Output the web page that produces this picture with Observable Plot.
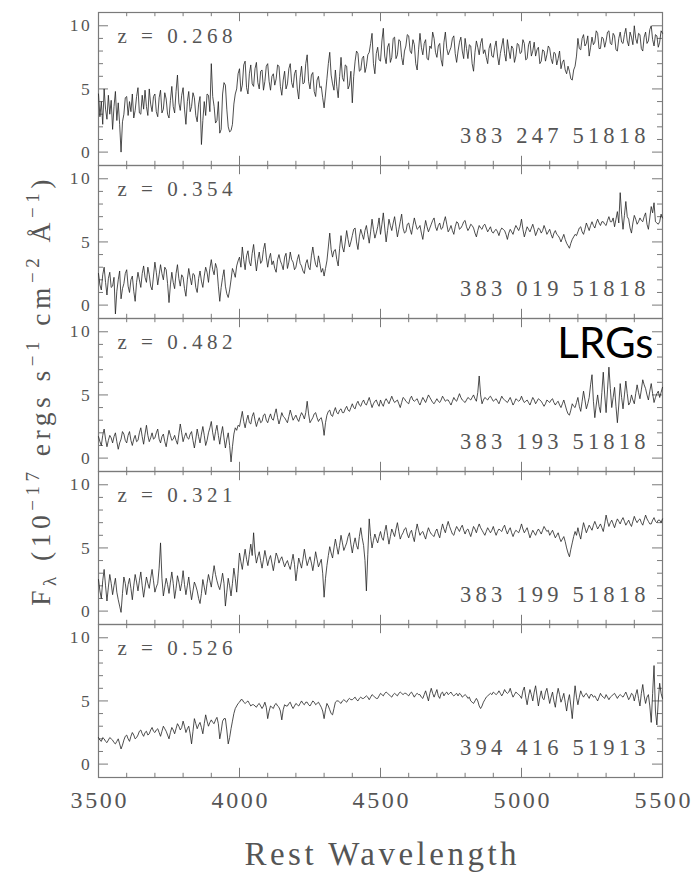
<!DOCTYPE html>
<html>
<head>
<meta charset="utf-8">
<script src="https://cdn.jsdelivr.net/npm/d3@7"></script>
<script src="https://cdn.jsdelivr.net/npm/@observablehq/plot@0.6"></script>
<style>
  html, body { margin: 0; padding: 0; background: #ffffff; }
  #chart { width: 692px; height: 873px; }
</style>
</head>
<body>
<div id="chart"></div>
<script>
// ---------- data (5 Å sampling, 3500–5500 Å) ----------
const wavelength = d3.range(3500, 5501, 5);
const panels = ["p1", "p2", "p3", "p4", "p5"];
const redshifts = ["0.268", "0.354", "0.482", "0.321", "0.526"];
const spectrumIds = ["383 247 51818", "383 019 51818", "383 193 51818", "383 199 51818", "394 416 51913"];

const flux268 = [
  4.6, 2.8, 4.0, 2.2, 5.0, 3.4, 2.6, 4.5, 3.0, 4.1,
  1.8, 3.6, 4.8, 2.5, 3.9, 2.2, 0.0, 2.4, 3.0, 4.3,
  4.4, 2.9, 4.0, 3.2, 4.6, 2.7, 3.3, 4.4, 5.1, 3.1,
  3.0, 4.5, 3.4, 4.9, 3.6, 2.9, 5.0, 3.8, 3.2, 4.4,
  4.6, 3.2, 2.8, 4.3, 4.9, 3.1, 3.4, 4.7, 4.2, 3.0,
  2.7, 4.1, 5.2, 3.6, 3.1, 4.8, 6.1, 3.9, 3.3, 4.5,
  5.1, 3.4, 2.2, 4.0, 4.8, 3.2, 3.6, 4.7, 4.3, 2.9,
  2.4, 3.8, 4.4, 0.6, 2.5, 4.0, 2.9, 4.6, 4.5, 3.2,
  7.0, 4.4, 3.6, 2.3, 2.5, 4.0, 1.5, 1.8, 4.6, 5.5,
  5.3, 3.4, 2.0, 1.6, 1.7, 2.2, 3.8, 4.6, 5.0, 6.2,
  6.6, 4.8, 5.3, 6.9, 7.2, 5.1, 4.6, 6.2, 6.9, 5.4,
  5.2, 6.6, 7.1, 5.5, 5.0, 6.4, 6.5, 4.9, 5.6, 6.8,
  7.0, 5.6, 4.9, 6.0, 6.2, 5.3, 5.8, 6.9, 6.8, 5.2,
  4.5, 5.7, 6.4, 5.0, 5.4, 6.6, 7.0, 5.5, 5.1, 6.2,
  6.5, 5.0, 4.2, 5.9, 6.8, 5.4, 5.5, 7.0, 7.7, 5.6,
  5.0, 6.1, 6.3, 4.8, 4.4, 5.7, 6.0, 5.1, 5.2, 4.3,
  3.5, 4.6, 5.8, 7.0, 7.9, 6.1, 5.4, 4.9, 6.5, 5.2,
  4.3, 6.0, 7.5, 5.9, 5.6, 6.9, 6.8, 5.0, 5.3, 6.4,
  3.9, 6.0, 7.2, 8.0, 7.8, 6.4, 6.5, 7.4, 7.6, 6.3,
  6.8, 7.7, 7.9, 8.6, 9.4, 7.0, 6.2, 7.8, 8.3, 7.3,
  7.2, 8.8, 9.8, 7.6, 7.0, 8.3, 8.6, 7.1, 7.5, 9.0,
  9.1, 7.4, 7.7, 8.9, 8.8, 7.5, 6.9, 8.0, 8.4, 9.3,
  9.2, 8.0, 7.8, 8.9, 8.5, 7.0, 6.5, 8.1, 9.4, 8.3,
  7.7, 8.6, 8.9, 7.4, 7.3, 8.4, 8.2, 9.5, 9.0, 7.9,
  7.5, 8.4, 8.6, 7.3, 6.8, 8.7, 9.5, 8.2, 7.7, 8.0,
  8.3, 9.0, 9.2, 7.8, 7.1, 8.0, 8.7, 9.1, 8.0, 7.4,
  9.0, 8.2, 7.4, 8.5, 8.4, 7.0, 6.4, 7.9, 8.8, 8.3,
  7.7, 8.6, 9.0, 7.8, 8.1, 7.5, 7.0, 8.2, 8.6, 7.6,
  7.5, 8.3, 8.8, 7.6, 6.9, 7.8, 8.4, 9.0, 7.8, 7.2,
  8.9, 8.1, 7.4, 8.4, 8.2, 7.1, 7.6, 8.6, 8.5, 7.8,
  7.9, 8.9, 8.6, 7.3, 7.4, 8.5, 8.8, 7.6, 8.0, 8.7,
  7.6, 8.1, 8.3, 7.0, 7.2, 8.1, 8.0, 7.2, 7.7, 8.4,
  8.2, 7.4, 7.0, 7.9, 7.8, 6.9, 7.4, 8.0, 6.6, 7.1,
  7.3, 6.5, 6.2, 6.8, 6.4, 5.8, 5.7, 6.5, 6.8, 7.6,
  9.0, 8.2, 8.1, 9.0, 9.3, 8.4, 8.6, 9.2, 7.6, 8.3,
  9.1, 8.5, 8.7, 9.6, 9.4, 8.2, 8.2, 9.1, 9.0, 8.3,
  8.8, 9.5, 9.6, 8.6, 8.5, 9.4, 9.2, 8.1, 8.0, 9.0,
  9.5, 8.7, 8.6, 9.3, 9.8, 8.8, 8.4, 9.5, 9.1, 8.5,
  10.0, 9.0, 8.6, 9.4, 9.3, 8.2, 8.0, 9.1, 9.5, 8.6,
  8.8, 9.7, 10.0, 8.9, 8.4, 9.3, 9.2, 8.3, 8.7, 9.6,
  9.4
];
const flux354 = [
  2.5, 1.6, 1.2, 2.4, 3.0, 1.8, 0.8, 2.1, 2.6, 1.4,
  1.5, 2.2, -0.7, 1.1, 2.0, 2.7, 0.5, 1.3, 1.7, 2.5,
  2.8, 1.5, 1.0, 2.0, 2.3, 1.1, 0.3, 1.8, 2.6, 2.0,
  1.4, 2.5, 3.1, 2.2, 1.8, 3.0, 2.4, 1.5, 1.2, 2.3,
  3.4, 2.6, 1.6, 2.4, 3.2, 2.5, 2.0, 3.0, 2.8, 1.7,
  0.2, 1.6, 2.6, 1.8, 1.3, 2.5, 3.2, 2.1, 1.5, 2.4,
  2.2, 1.3, 0.7, 2.0, 2.9, 2.2, 1.6, 2.5, 2.4, 1.4,
  1.0, 2.1, 2.7, 1.9, 1.4, 2.3, 3.0, 2.6, 1.8, 2.9,
  3.6, 2.8, 2.4, 3.3, 2.9, 1.5, 0.3, 1.4, 2.2, 2.8,
  1.5, 0.9, 0.6, 1.2, 2.0, 2.9, 2.6, 2.2, 3.1, 3.5,
  3.8, 3.0, 4.6, 3.6, 2.8, 3.9, 4.3, 3.4, 3.1, 4.1,
  4.8, 3.7, 2.7, 3.6, 4.2, 3.3, 3.5, 4.4, 4.9, 3.8,
  3.0, 3.7, 4.1, 3.2, 3.5, 2.9, 2.6, 3.6, 4.0, 3.5,
  3.2, 2.8, 3.8, 4.1, 2.9, 3.4, 4.2, 3.6, 3.4, 2.8,
  3.0, 3.6, 4.0, 3.3, 3.1, 2.7, 2.5, 3.3, 3.6, 3.0,
  2.8, 3.9, 4.6, 3.8, 3.2, 3.0, 3.9, 3.3, 2.6, 2.9,
  2.3, 2.9, 3.5, 4.6, 5.7, 4.4, 3.8, 4.3, 4.4, 3.6,
  3.1, 4.5, 5.5, 4.6, 4.2, 5.0, 5.9, 5.2, 4.6, 5.0,
  5.5, 6.0, 6.1, 5.0, 4.4, 5.4, 6.0, 5.6, 5.2, 5.9,
  6.3, 5.6, 4.9, 5.8, 6.8, 6.0, 5.3, 5.7, 6.2, 6.9,
  5.6, 6.4, 7.3, 6.1, 5.0, 5.9, 6.8, 6.3, 5.9, 6.5,
  7.0, 6.2, 5.4, 6.0, 6.6, 7.2, 6.1, 5.7, 5.8, 6.4,
  6.5, 6.0, 5.6, 6.3, 6.9, 6.4, 6.0, 6.1, 6.3, 5.7,
  5.2, 6.0, 6.7, 6.2, 5.8, 6.1, 6.4, 6.7, 6.9, 6.2,
  5.9, 6.3, 6.5, 6.0, 6.1, 6.6, 7.0, 6.4, 5.8, 6.0,
  6.3, 5.9, 5.6, 6.2, 6.6, 6.5, 6.0, 6.1, 6.3, 6.6,
  6.7, 6.2, 5.9, 6.1, 6.4, 6.3, 6.1, 5.7, 5.4, 5.9,
  6.3, 6.1, 6.0, 6.3, 6.4, 6.1, 5.8, 6.0, 6.2, 5.8,
  5.7, 5.9, 6.0, 5.8, 5.5, 5.9, 6.1, 6.0, 5.9, 5.6,
  5.2, 5.7, 6.0, 5.8, 5.6, 6.0, 6.3, 6.1, 5.9, 6.2,
  6.8, 6.0, 5.4, 5.8, 6.2, 6.0, 5.8, 6.1, 6.4, 6.0,
  5.5, 5.8, 6.1, 6.0, 5.7, 5.9, 6.3, 6.0, 5.6, 5.8,
  6.0, 5.6, 5.3, 5.7, 5.9, 5.6, 5.5, 5.3, 5.0, 5.3,
  5.6, 5.2, 4.9, 4.7, 4.5, 4.9, 5.2, 5.4, 5.6, 5.5,
  5.8, 6.1, 6.2, 5.8, 5.6, 6.0, 6.5, 6.2, 5.9, 6.3,
  6.6, 6.3, 6.1, 6.5, 6.8, 6.5, 6.3, 6.6, 6.6, 6.4,
  6.3, 6.7, 7.0, 6.6, 6.6, 6.9, 6.2, 6.8, 7.4, 6.5,
  8.9, 7.2, 6.0, 7.1, 8.2, 7.0, 6.8, 6.1, 5.7, 6.5,
  7.1, 6.8, 6.4, 6.6, 6.9, 6.7, 6.6, 7.0, 7.3, 6.4,
  6.0, 6.9, 7.8, 7.3, 8.1, 6.6, 6.5, 6.4, 6.6, 7.2,
  6.9
];
const flux482 = [
  1.7, 1.3, 1.0, 1.8, 2.3, 1.5, 0.9, 1.4, 1.8, 1.6,
  1.2, 1.7, 2.0, 1.3, 0.7, 1.2, 1.5, 2.1, 1.9, 1.4,
  1.2, 1.8, 2.1, 1.4, 1.0, 1.5, 1.8, 1.3, 1.4, 2.0,
  2.4, 1.7, 1.1, 1.9, 2.6, 1.8, 1.3, 1.6, 2.0, 1.5,
  1.6, 2.0, 2.3, 1.5, 1.2, 1.7, 1.9, 1.3, 0.9, 1.6,
  2.2, 1.8, 1.4, 1.5, 1.8, 1.4, 1.1, 1.9, 2.7, 2.0,
  1.3, 1.7, 2.0, 1.6, 1.5, 1.9, 2.1, 1.4, 0.8, 1.5,
  2.3, 1.7, 1.2, 1.9, 2.5, 1.8, 1.0, 1.4, 2.0, 2.4,
  2.9, 2.0, 1.4, 2.1, 2.6, 1.8, 1.1, 1.9, 2.5, 1.6,
  0.8, 1.5, 2.0, 1.0, -0.3, 0.9, 1.9, 2.4, 2.2, 2.6,
  2.5, 3.1, 3.7, 2.9, 2.4, 3.0, 3.4, 2.8, 2.7, 3.3,
  3.6, 3.0, 2.5, 2.9, 3.2, 2.8, 2.9, 3.4, 3.5, 3.0,
  2.8, 3.2, 3.5, 3.1, 3.0, 3.5, 3.9, 3.2, 2.7, 3.1,
  3.6, 3.3, 3.2, 3.0, 2.8, 3.3, 3.8, 3.4, 3.0, 3.2,
  3.4, 3.1, 2.9, 3.3, 3.6, 3.4, 3.1, 3.6, 4.5, 3.5,
  2.8, 3.0, 3.2, 3.5, 3.6, 3.2, 2.9, 3.1, 3.2, 2.7,
  1.8, 2.8, 3.4, 3.7, 3.8, 3.4, 3.3, 3.7, 4.0, 3.6,
  3.5, 3.8, 3.9, 3.6, 3.6, 3.9, 4.1, 3.8, 3.7, 4.0,
  4.3, 4.0, 3.9, 4.3, 4.5, 4.2, 4.1, 4.4, 4.6, 4.3,
  4.2, 4.5, 4.8, 4.4, 4.0, 4.3, 4.5, 4.6, 4.3, 4.1,
  4.6, 4.3, 4.1, 4.5, 4.7, 4.5, 4.3, 4.6, 4.9, 4.6,
  4.4, 4.5, 4.6, 4.3, 4.0, 4.4, 4.8, 4.7, 4.5, 4.4,
  4.3, 4.7, 4.9, 4.6, 4.5, 4.6, 4.7, 4.4, 4.2, 4.5,
  4.8, 4.6, 4.4, 4.7, 5.0, 4.8, 4.6, 4.4, 4.3, 4.5,
  4.7, 4.5, 4.4, 4.6, 4.9, 4.7, 4.5, 4.6, 4.6, 4.4,
  4.2, 4.5, 4.8, 4.6, 4.5, 4.8, 5.1, 4.8, 4.6, 4.5,
  4.4, 4.6, 4.8, 4.7, 4.6, 4.8, 5.0, 4.7, 4.5, 5.2,
  6.5, 5.0, 4.3, 4.6, 4.8, 4.7, 4.6, 4.8, 4.9, 4.7,
  4.5, 4.6, 4.7, 4.5, 4.3, 4.6, 4.9, 4.7, 4.6, 4.5,
  4.4, 4.6, 4.8, 4.5, 4.2, 4.4, 4.7, 4.6, 4.5, 4.6,
  4.9, 4.6, 4.4, 4.5, 4.6, 4.4, 4.2, 4.5, 4.8, 4.6,
  4.3, 4.5, 4.7, 4.6, 4.5, 4.3, 4.1, 4.3, 4.6, 4.5,
  4.4, 4.6, 4.7, 4.4, 4.2, 4.4, 4.5, 4.2, 4.0, 4.3,
  4.6, 4.2, 3.8, 3.5, 3.4, 3.8, 4.3, 4.1, 4.0, 4.4,
  4.8, 4.1, 3.7, 4.5, 5.3, 4.6, 3.9, 4.3, 4.8, 5.8,
  6.6, 4.5, 3.2, 4.2, 5.0, 4.1, 3.6, 5.2, 6.8, 5.0,
  3.6, 5.4, 7.2, 5.5, 4.0, 4.8, 5.6, 4.1, 2.8, 4.2,
  5.9, 4.8, 3.9, 5.0, 6.1, 5.1, 4.2, 4.4, 5.0, 4.6,
  4.3, 5.1, 5.8, 5.2, 4.7, 5.4, 6.2, 5.8, 5.5, 5.0,
  4.6, 5.3, 5.9, 5.1, 4.4, 4.8, 5.1, 5.3, 4.8, 5.2,
  5.6
];
const flux321 = [
  2.5, 1.6, 1.0, 2.4, 3.3, 2.0, 0.8, 1.9, 2.9, 2.2,
  1.3, 2.0, 2.6, 1.5, 0.9, 0.4, -0.1, 1.4, 2.7, 2.2,
  1.3, 2.1, 2.6, 1.8, 0.9, 2.0, 2.9, 2.3, 1.6, 2.4,
  3.1, 2.0, 1.1, 1.9, 2.7, 2.2, 1.8, 2.6, 3.3, 2.4,
  1.5, 1.9, 2.2, 3.4, 5.4, 2.6, 1.2, 1.9, 2.6, 2.1,
  1.4, 2.3, 3.1, 2.2, 1.0, 1.8, 2.8, 2.3, 1.6, 2.2,
  3.2, 2.1, 1.3, 2.0, 2.7, 1.7, 0.9, 1.6, 2.3, 2.0,
  1.6, 1.0, 0.6, 1.4, 2.5, 1.9, 1.3, 2.2, 2.9, 2.4,
  1.9, 2.8, 3.6, 2.9, 2.4, 2.0, 1.7, 2.3, 3.0, 2.2,
  0.4, 1.5, 2.6, 2.0, 1.2, 2.2, 3.4, 2.6, 1.5, 3.0,
  4.6, 3.9, 3.3, 4.2, 4.9, 4.1, 3.6, 4.5, 5.3, 4.4,
  6.2, 4.6, 3.8, 4.3, 4.7, 4.0, 3.4, 4.1, 4.8, 4.2,
  3.6, 4.1, 4.4, 3.8, 3.2, 3.9, 4.6, 4.3, 3.8, 4.1,
  4.3, 3.9, 3.5, 3.8, 4.0, 3.6, 3.3, 3.9, 4.5, 3.7,
  2.4, 3.3, 4.2, 3.8, 3.4, 4.1, 4.9, 4.2, 3.6, 4.0,
  4.3, 3.8, 3.2, 3.9, 4.7, 4.1, 3.5, 3.8, 4.1, 3.0,
  1.1, 2.6, 3.6, 4.4, 5.1, 4.6, 4.2, 5.0, 5.7, 5.1,
  4.5, 5.2, 6.0, 5.4, 4.8, 5.1, 5.4, 5.9, 6.2, 5.3,
  4.6, 5.3, 5.8, 5.2, 4.9, 5.9, 6.6, 5.8, 5.2, 4.0,
  1.6, 4.5, 7.3, 5.9, 5.0, 5.6, 6.1, 5.7, 5.4, 5.9,
  6.3, 5.8, 5.6, 6.3, 6.8, 6.0, 5.3, 5.9, 6.5, 6.2,
  5.9, 6.5, 7.0, 6.3, 5.7, 6.0, 6.2, 6.5, 6.6, 6.1,
  5.8, 6.2, 6.4, 5.9, 5.5, 6.3, 6.9, 6.4, 6.0, 6.2,
  6.3, 6.0, 5.7, 6.2, 6.6, 6.3, 6.1, 6.0, 5.9, 6.3,
  6.5, 6.1, 5.8, 6.4, 6.9, 6.5, 6.2, 6.7, 7.1, 6.7,
  6.4, 6.1, 6.0, 6.4, 6.7, 6.5, 6.3, 6.6, 6.8, 6.4,
  6.1, 6.4, 6.5, 6.2, 5.9, 6.3, 6.7, 6.5, 6.2, 6.6,
  6.9, 6.6, 6.4, 6.2, 6.0, 6.3, 6.6, 6.4, 6.2, 6.4,
  6.7, 6.3, 6.0, 6.3, 6.5, 6.4, 6.3, 6.6, 6.8, 6.4,
  6.1, 6.4, 6.6, 6.2, 5.9, 6.2, 6.4, 6.3, 6.2, 6.5,
  6.9, 6.5, 6.2, 6.4, 6.6, 6.2, 5.8, 6.1, 6.4, 6.2,
  6.0, 6.3, 6.5, 6.3, 6.1, 6.4, 6.7, 6.5, 6.3, 6.4,
  6.0, 6.2, 6.4, 6.1, 5.8, 6.0, 6.2, 5.8, 5.5, 5.7,
  5.9, 5.5, 5.0, 4.6, 4.3, 4.9, 5.4, 5.9, 6.3, 6.0,
  6.6, 6.1, 5.7, 6.4, 7.0, 6.6, 6.2, 6.5, 6.8, 6.6,
  6.4, 6.8, 7.1, 6.8, 6.5, 6.7, 6.9, 6.6, 6.3, 6.9,
  7.6, 7.1, 6.7, 7.0, 7.2, 6.9, 6.6, 7.0, 7.3, 7.1,
  6.9, 7.2, 7.4, 7.1, 6.8, 7.0, 7.2, 6.9, 6.7, 7.1,
  7.5, 7.2, 7.0, 7.2, 7.3, 7.0, 6.8, 7.2, 7.6, 7.3,
  7.1, 6.9, 6.9, 7.2, 7.4, 7.1, 7.0, 7.2, 7.2, 7.0,
  7.3
];
const flux526 = [
  2.1, 1.9, 1.8, 2.1, 2.0, 1.8, 1.7, 1.9, 2.1, 2.0,
  1.9, 1.7, 1.6, 1.8, 2.0, 1.6, 1.2, 1.5, 1.9, 2.2,
  2.3, 2.0, 1.8, 2.2, 2.5, 2.3, 2.0, 2.1, 2.3, 2.6,
  2.7, 2.4, 2.2, 2.5, 2.6, 2.3, 2.4, 2.7, 2.9, 2.6,
  2.5, 2.7, 2.8, 2.5, 2.2, 2.6, 3.0, 2.8, 2.6, 2.3,
  2.0, 2.5, 2.9, 2.7, 2.4, 2.8, 3.2, 3.0, 2.7, 2.9,
  3.4, 3.0, 2.5, 2.8, 3.0, 2.4, 1.6, 2.6, 3.6, 3.2,
  2.8, 3.1, 3.3, 2.9, 2.4, 3.2, 3.9, 3.4, 3.0, 3.3,
  3.5, 3.3, 3.2, 3.5, 3.7, 3.2, 2.0, 2.6, 3.4, 3.6,
  3.6, 2.7, 1.6, 2.1, 2.8, 3.4, 4.0, 4.4, 4.6, 4.8,
  4.9, 5.1, 5.1, 4.9, 4.8, 4.9, 5.0, 4.8, 4.6, 4.7,
  4.7, 4.6, 4.5, 4.7, 4.8, 4.6, 4.4, 4.6, 4.9, 4.5,
  3.6, 4.2, 4.6, 4.5, 4.4, 4.7, 4.8, 4.6, 4.5, 4.2,
  3.5, 4.3, 4.7, 4.6, 4.6, 4.8, 4.9, 4.6, 4.4, 4.6,
  4.8, 4.7, 4.6, 4.8, 5.0, 4.8, 4.7, 4.9, 4.9, 4.7,
  4.6, 4.8, 5.0, 4.9, 4.7, 4.8, 4.9, 4.7, 4.5, 4.2,
  3.6, 4.3, 4.8, 4.6, 4.3, 4.0, 3.9, 4.4, 4.9, 5.0,
  5.0, 4.9, 4.8, 5.0, 5.1, 5.0, 4.9, 5.1, 5.2, 5.1,
  5.1, 5.2, 5.3, 5.1, 5.0, 5.2, 5.3, 5.2, 5.2, 5.3,
  5.4, 5.3, 5.1, 5.3, 5.5, 5.4, 5.3, 5.2, 5.2, 5.4,
  5.6, 5.5, 5.4, 5.6, 5.7, 5.6, 5.5, 5.4, 5.3, 5.5,
  5.6, 5.5, 5.4, 5.6, 5.7, 5.6, 5.5, 5.6, 5.6, 5.5,
  5.4, 5.6, 5.7, 5.5, 5.3, 5.5, 5.6, 5.5, 5.5, 5.3,
  5.2, 5.5, 5.8, 5.4, 5.0, 5.6, 6.0, 5.6, 5.3, 5.6,
  5.9, 5.4, 5.2, 5.6, 5.7, 5.4, 5.6, 5.7, 5.5, 5.6,
  5.7, 5.5, 5.4, 5.5, 5.6, 5.4, 5.6, 5.5, 5.3, 5.4,
  5.5, 5.4, 5.2, 5.3, 5.0, 4.9, 4.8, 5.0, 5.2, 5.0,
  4.6, 4.4, 4.6, 4.9, 5.1, 5.3, 5.4, 5.5, 5.6, 5.5,
  5.7, 5.6, 5.5, 5.6, 5.8, 5.6, 5.4, 5.6, 5.9, 5.7,
  5.6, 5.7, 6.0, 5.6, 5.3, 5.5, 5.7, 5.6, 5.5, 5.4,
  5.2, 5.8, 6.1, 5.3, 4.7, 5.4, 5.9, 5.5, 5.0, 5.7,
  6.2, 5.4, 4.6, 5.3, 5.8, 5.2, 5.1, 5.7, 6.0, 5.4,
  4.8, 5.3, 5.7, 5.0, 4.5, 5.4, 6.0, 5.5, 4.9, 5.2,
  5.6, 4.9, 4.2, 5.0, 5.5, 4.6, 3.6, 5.0, 6.2, 5.3,
  4.7, 5.3, 5.8, 5.5, 5.3, 5.5, 5.6, 5.4, 5.2, 5.5,
  5.5, 5.3, 5.4, 5.2, 5.0, 5.3, 5.6, 5.4, 5.3, 5.2,
  5.5, 5.3, 5.1, 5.3, 5.4, 5.5, 5.6, 5.4, 5.2, 5.4,
  5.5, 5.4, 5.3, 5.5, 5.7, 5.4, 5.1, 5.3, 5.6, 5.5,
  5.0, 5.5, 5.9, 5.2, 4.6, 5.6, 6.3, 5.4, 4.8, 5.3,
  5.5, 4.6, 3.3, 5.6, 7.8, 4.2, 3.1, 5.0, 6.4, 5.6,
  5.2
];

// axis ticks and titles
const xTickLabels = [3500, 4000, 4500, 5000, 5500];
const xMajor = [4000, 4500, 5000];
const xMinor = [3600, 3700, 3800, 3900, 4100, 4200, 4300, 4400, 4600, 4700, 4800, 4900, 5100, 5200, 5300, 5400];
const yMajor = [0, 5, 10];
const yMinor = [1, 2, 3, 4, 6, 7, 8, 9];
const xTitle = "Rest Wavelength";
const yTitleParts = [
  {t: "F"}, {t: "λ", sub: true}, {t: " (10"}, {t: "−17", sup: true},
  {t: " ergs s"}, {t: "−1", sup: true}, {t: " cm"}, {t: "−2", sup: true},
  {t: " Å"}, {t: "−1", sup: true}, {t: ")"}
];
const tag = "LRGs";

// ---------- tables ----------
const fluxes = [flux268, flux354, flux482, flux321, flux526];
const rows = fluxes.flatMap((f, i) => f.map((v, j) => ({panel: panels[i], lambda: wavelength[j], flux: v})));
const labelRows = panels.map((p, i) => ({panel: p, z: "z = " + redshifts[i], id: spectrumIds[i]}));

// ---------- layout ----------
const W = 692, H = 873;
const mL = 98, mR = 30, mT = 10, mB = 94;
const frameW = W - mL - mR;
const panelH = (H - mT - mB) / panels.length;
const gray = "#7a7a7a";
const textColor = "#555555";
const serif = "'Liberation Serif', 'DejaVu Serif', serif";

const plot = Plot.plot({
  width: W,
  height: H,
  marginLeft: mL, marginRight: mR, marginTop: mT, marginBottom: mB,
  style: {fontFamily: serif, color: textColor, background: "#ffffff"},
  x: {domain: [3500, 5500], axis: null},
  y: {domain: [-1.06, 11.05], axis: null},
  fy: {domain: panels, padding: 0, axis: null},
  marks: [
    Plot.tickX(xMinor, {x: d => d, insetTop: panelH - 5, stroke: gray}),
    Plot.tickX(xMinor, {x: d => d, insetBottom: panelH - 5, stroke: gray}),
    Plot.tickX(xMajor, {x: d => d, insetTop: panelH - 10, stroke: gray}),
    Plot.tickX(xMajor, {x: d => d, insetBottom: panelH - 10, stroke: gray}),
    Plot.tickY(yMinor, {y: d => d, insetRight: frameW - 5, stroke: gray}),
    Plot.tickY(yMinor, {y: d => d, insetLeft: frameW - 5, stroke: gray}),
    Plot.tickY(yMajor, {y: d => d, insetRight: frameW - 10, stroke: gray}),
    Plot.tickY(yMajor, {y: d => d, insetLeft: frameW - 10, stroke: gray}),
    Plot.frame({stroke: gray, strokeWidth: 1.2}),
    Plot.line(rows, {x: "lambda", y: "flux", fy: "panel", stroke: "#222222", strokeWidth: 0.8}),
    Plot.text(labelRows, {fy: "panel", text: "z", frameAnchor: "top-left", textAnchor: "start", lineAnchor: "top",
      dx: 19, dy: 16, fontSize: 21, fontFamily: serif, fill: textColor}),
    Plot.text(labelRows, {fy: "panel", text: "id", frameAnchor: "bottom-right", textAnchor: "end", lineAnchor: "bottom",
      dx: -17 + 4.2, dy: -23, fontSize: 22.5, fontFamily: serif, fill: textColor}),
    Plot.text(yMajor, {y: d => d, text: d => String(d), frameAnchor: "left", textAnchor: "end", lineAnchor: "middle",
      dx: -8.7 + 2.5, fontSize: 17.5, fontFamily: serif, fill: textColor}),
    Plot.axisX(xTickLabels, {anchor: "bottom", tickSize: 0, tickPadding: 13, tickFormat: d => String(d),
      fontSize: 24, fontFamily: serif, fill: textColor, label: null, dx: 1.35}),
    Plot.text([{panel: panels[4], t: xTitle}], {fy: "panel", text: "t", frameAnchor: "bottom", lineAnchor: "bottom",
      dx: 1.75, dy: 87, fontSize: 33, fontFamily: serif, fill: textColor}),
    Plot.text([{panel: panels[2], t: tag}], {fy: "panel", text: "t", frameAnchor: "top-right", textAnchor: "end", lineAnchor: "bottom",
      dx: -9, dy: 39, fontSize: 42, fontFamily: "Lato, 'Open Sans', sans-serif", fill: "#000000"})
  ]
});

// wide Hershey-like letter spacing, chosen by text content
const svg = d3.select(plot);
const spacing = new Map();
labelRows.forEach(r => { spacing.set(r.z, 4.5); spacing.set(r.id, 4.2); });
yMajor.forEach(v => spacing.set(String(v), 2.5));
xTickLabels.forEach(v => spacing.set(String(v), 2.7));
spacing.set(xTitle, 3.5);
svg.selectAll("text").each(function () {
  const s = spacing.get(this.textContent);
  if (s !== undefined) this.setAttribute("letter-spacing", s);
});

// y-axis title with sub/superscripts
const yt = svg.append("text")
  .attr("transform", `translate(50,${mT + (H - mT - mB) / 2 - 4}) rotate(-90)`)
  .attr("text-anchor", "middle")
  .attr("font-family", serif)
  .attr("font-size", 27.5)
  .attr("letter-spacing", 4.5)
  .attr("fill", textColor);
let shift = 0;
for (const p of yTitleParts) {
  const target = p.sup ? -11 : p.sub ? 6 : 0;
  yt.append("tspan")
    .attr("dy", target - shift)
    .attr("font-size", p.sup || p.sub ? 19 : 27.5)
    .text(p.t);
  shift = target;
}

document.getElementById("chart").append(plot);
</script>
</body>
</html>
